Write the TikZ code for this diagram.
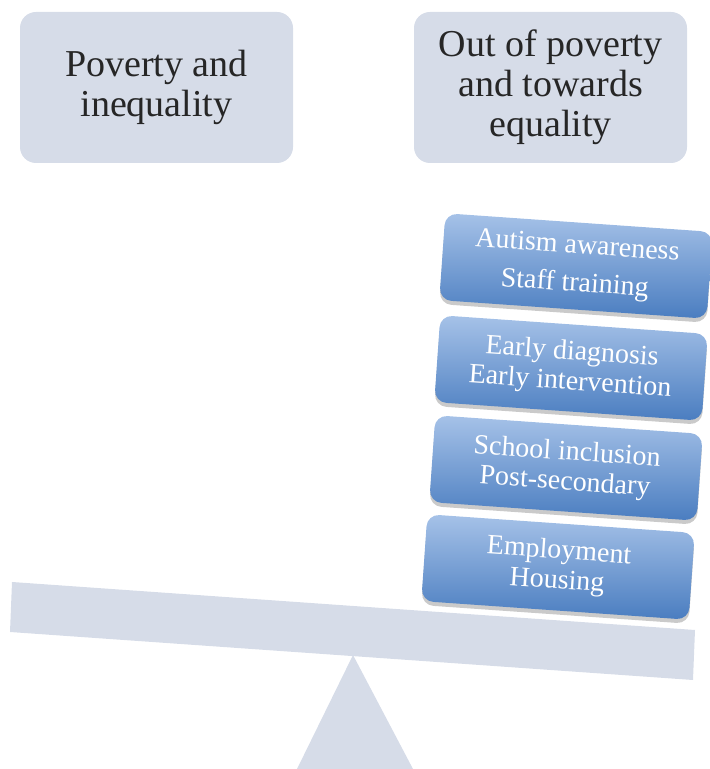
\documentclass[tikz,border=0pt]{standalone}
\usepackage{fontspec}
\setmainfont{Liberation Serif}
\usetikzlibrary{shadows}
\definecolor{paleblue}{HTML}{D6DCE8}
\definecolor{lightstep}{HTML}{A6C2E8}
\definecolor{darkstep}{HTML}{4A7DC0}
\newcommand{\headfont}{\fontsize{38}{40}\selectfont}
\newcommand{\stepfont}{\fontsize{28}{30}\selectfont}

\begin{document}
\begin{tikzpicture}[x=1pt,y=1pt,
  goal/.style={fill=paleblue, rounded corners=16pt, minimum width=273pt,
    minimum height=151pt, align=center, text=black!85, font=\headfont},
  stepbox/.style={rotate=-4, top color=lightstep, bottom color=darkstep,
    rounded corners=12pt, minimum width=268pt, minimum height=87pt,
    align=center, text=white, font=\stepfont,
    drop shadow={shadow xshift=0pt, shadow yshift=-4pt, opacity=.35, fill=black!60}}]
\useasboundingbox (0,0) rectangle (710,769);
% the two sides
\node[goal] (poverty) at (156.5,681.5) {Poverty and\\inequality};
\node[goal] (equality) at (550.5,681.5) {Out of poverty\\and towards\\equality};
% beam and fulcrum
\fill[paleblue] (12,187) -- (695,139) -- (693,89) -- (10,137) -- cycle;
\fill[paleblue] (353,114) -- (413,0) -- (297,0) -- cycle;
% the weights, bottom up
\node[stepbox] (housing) at (558,202) {Employment\\Housing};
\node[stepbox] (school) at (566,301) {School inclusion\\Post-secondary};
\node[stepbox] (diagnosis) at (571,401) {Early diagnosis\\Early intervention};
\node[stepbox] (awareness) at (576,503) {Autism awareness\\[8pt]Staff training};
\end{tikzpicture}
\end{document}
